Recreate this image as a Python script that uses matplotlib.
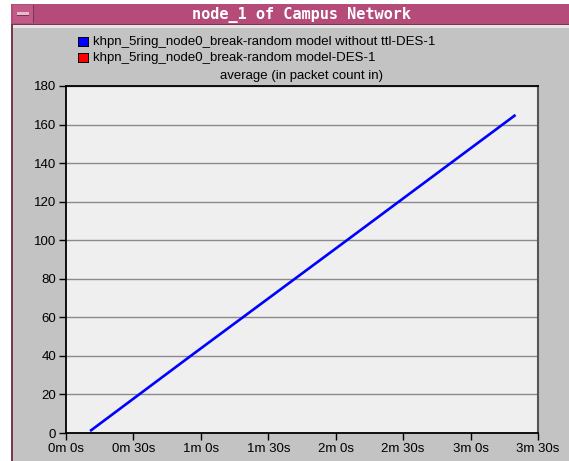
import matplotlib
matplotlib.use("Agg")
import matplotlib.pyplot as plt
from matplotlib.patches import Rectangle

# Series data: simulation time (seconds) and average packet count
time_s = [10.7, 55.5, 125.0, 200.0]
avg_packets = [1.0, 40.0, 100.0, 165.0]

series_names = [
    "khpn_5ring_node0_break-random model without ttl-DES-1",
    "khpn_5ring_node0_break-random model-DES-1",
]
series_colors = ["#0000ff", "#ff0000"]

x_ticks = [0, 30, 60, 90, 120, 150, 180, 210]
x_tick_labels = ["0m 0s", "0m 30s", "1m 0s", "1m 30s", "2m 0s", "2m 30s", "3m 0s", "3m 30s"]
y_ticks = [0, 20, 40, 60, 80, 100, 120, 140, 160, 180]

W, H = 569, 461
fig = plt.figure(figsize=(W / 100, H / 100), dpi=100)
fig.patch.set_facecolor("white")


def px(x, y):
    return x / W, 1 - y / H


def rect(x0, y0, x1, y1, color, z=0):
    fx, fy = px(x0, y1)
    fig.patches.append(Rectangle((fx, fy), (x1 - x0) / W, (y1 - y0) / H,
                                 transform=fig.transFigure, facecolor=color,
                                 edgecolor="none", zorder=z))


# Window frame
rect(11, 4, W, H, "#c3c3c3", 0)
rect(11, 4, 13, H, "#7a3550", 1)
rect(11, 4, W, 25, "#b44b78", 1)
rect(11, 24, W, 25, "#7a3550", 2)
rect(13, 25, W, 28, "#e4e4e4", 2)
# Title bar button
rect(13, 5, 34, 23, "#c05a86", 2)
rect(33, 5, 34, 23, "#7a3550", 3)
rect(17, 12, 29, 16, "#e8b8cc", 3)
rect(17, 15, 29, 16, "#7a3550", 4)

fig.text(*px(302, 15), "node_1 of Campus Network", ha="center", va="center",
         color="white", fontsize=11, fontweight="bold", family="DejaVu Sans Mono")

LABEL_SIZE = 9.5

# Legend entries
legend_y = [42, 58]
for name, col, ly in zip(series_names, series_colors, legend_y):
    rect(78, ly - 5, 89, ly + 5, "black", 5)
    rect(79, ly - 4, 88, ly + 4, col, 6)
    fig.text(*px(93, ly), name, ha="left", va="center", fontsize=LABEL_SIZE,
             family="Liberation Sans", color="black")

ax_l, ax_r, ax_t, ax_b = 66, 538, 86, 433
ax = fig.add_axes([ax_l / W, 1 - ax_b / H, (ax_r - ax_l) / W, (ax_b - ax_t) / H])
ax.set_zorder(10)
ax.set_facecolor("#efefef")
ax.plot(time_s, avg_packets, color=series_colors[0], lw=1.9, solid_capstyle="butt", zorder=3)

ax.set_xlim(0, 210)
ax.set_ylim(0, 180)
ax.set_xticks(x_ticks)
ax.set_xticklabels(x_tick_labels)
ax.set_yticks(y_ticks)
ax.yaxis.grid(True, color="#8a8a8a", lw=1.0)
ax.set_axisbelow(True)
ax.tick_params(direction="out", length=5, width=1, colors="black", labelsize=LABEL_SIZE, pad=2)
for lbl in ax.get_xticklabels() + ax.get_yticklabels():
    lbl.set_family("Liberation Sans")
for s in ["left", "bottom", "top"]:
    ax.spines[s].set_color("black")
    ax.spines[s].set_linewidth(1.3)
ax.spines["right"].set_color("#555555")
ax.spines["right"].set_linewidth(1.5)

ax.set_title("average (in packet count in)", fontsize=LABEL_SIZE, family="Liberation Sans", pad=5)

fig.savefig("out.png", dpi=100)
